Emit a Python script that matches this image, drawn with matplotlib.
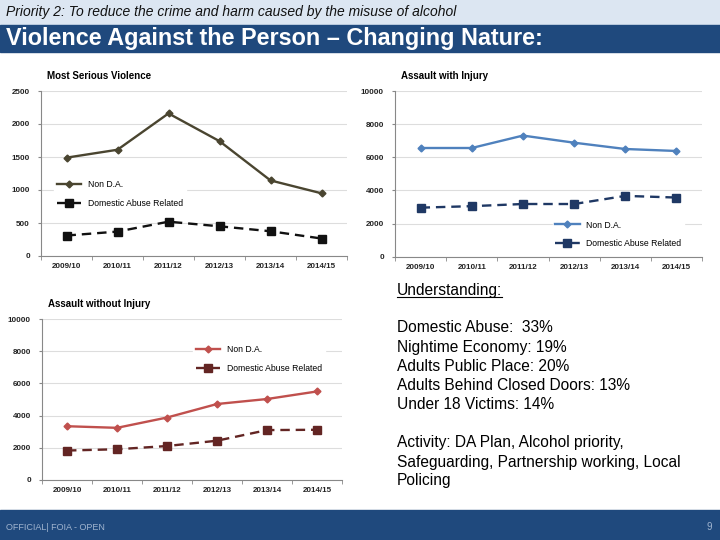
import matplotlib.pyplot as plt
import matplotlib.patches as patches

plt.rcParams['font.family'] = ['Liberation Sans', 'DejaVu Sans']

years = ['2009/10', '2010/11', '2011/12', '2012/13', '2013/14', '2014/15']

# Most Serious Violence
msv_non_da = [1490, 1610, 2160, 1740, 1145, 950]
msv_da = [310, 370, 520, 450, 375, 265]

# Assault with Injury
awi_non_da = [6560, 6560, 7310, 6880, 6500, 6380]
awi_da = [2960, 3050, 3180, 3180, 3670, 3570]

# Assault without Injury
awoi_non_da = [3340, 3240, 3880, 4720, 5030, 5500]
awoi_da = [1830, 1910, 2110, 2440, 3100, 3120]

understanding = ["Domestic Abuse:  33%", "Nightime Economy: 19%", "Adults Public Place: 20%",
                 "Adults Behind Closed Doors: 13%", "Under 18 Victims: 14%"]
activity = ["Activity: DA Plan, Alcohol priority,", "Safeguarding, Partnership working, Local", "Policing"]

dark_blue = '#1f497d'
light_band = '#dce6f2'

fig = plt.figure(figsize=(7.2, 5.4), dpi=100)

# header / footer bands
fig.patches.append(patches.Rectangle((0, 1 - 25/540), 1, 25/540, transform=fig.transFigure, color=light_band, zorder=0))
fig.patches.append(patches.Rectangle((0, 1 - 52/540), 1, 27/540, transform=fig.transFigure, color=dark_blue, zorder=0))
fig.patches.append(patches.Rectangle((0, 0), 1, 30/540, transform=fig.transFigure, color=dark_blue, zorder=0))

fig.text(6/720, 1 - 12/540, "Priority 2: To reduce the crime and harm caused by the misuse of alcohol",
         fontsize=10, style='italic', va='center', ha='left', color='#111111')
fig.text(6/720, 1 - 38/540, "Violence Against the Person \u2013 Changing Nature:",
         fontsize=16.8, fontweight='bold', va='center', ha='left', color='white')
fig.text(6/720, 13/540, "OFFICIAL| FOIA - OPEN", fontsize=6.5, va='center', ha='left', color='#9fb4cf')
fig.text(712/720, 13/540, "9", fontsize=7, va='center', ha='right', color='#9fb4cf')


def chart(rect, title, non_da, da, ymax, c1, c2, legend_loc):
    ax = fig.add_axes(rect)
    x = range(len(years))
    ax.plot(x, non_da, color=c1, lw=1.7, marker='D', ms=3.5, label='Non D.A.')
    ax.plot(x, da, color=c2, lw=1.7, ls=(0, (4, 2.5)), marker='s', ms=6, label='Domestic Abuse Related')
    ax.set_xlim(-0.5, len(years) - 0.5)
    ax.set_ylim(0, ymax)
    ax.set_yticks([ymax * i / 5 for i in range(6)])
    ax.set_yticklabels([str(int(ymax * i / 5)) for i in range(6)])
    ax.set_xticks(list(x))
    ax.set_xticklabels(years)
    ax.set_xticks([i - 0.5 for i in range(len(years) + 1)], minor=True)
    ax.tick_params(axis='x', which='major', length=0, pad=5)
    ax.tick_params(axis='x', which='minor', length=3, color='#888888')
    ax.tick_params(axis='y', length=2, color='#888888', pad=6)
    for lab in ax.get_xticklabels() + ax.get_yticklabels():
        lab.set_fontsize(5.8)
        lab.set_fontweight('bold')
        lab.set_color('#222222')
    ax.grid(axis='y', color='#dddddd', lw=0.8)
    ax.set_axisbelow(True)
    for s in ['top', 'right']:
        ax.spines[s].set_visible(False)
    for s in ['left', 'bottom']:
        ax.spines[s].set_color('#888888')
        ax.spines[s].set_linewidth(0.8)
    ax.text(0.02, 1.06, title, transform=ax.transAxes, fontsize=7, fontweight='bold', ha='left', va='bottom')
    leg = ax.legend(loc='upper left', bbox_to_anchor=legend_loc, frameon=True, fontsize=6.2,
                    handlelength=2.8, labelspacing=1.1, borderpad=0.3)
    leg.get_frame().set_edgecolor('white')
    leg.get_frame().set_facecolor('white')
    leg.get_frame().set_alpha(1)
    return ax


chart([41/720, 1 - 256/540, 306/720, 165/540], "Most Serious Violence", msv_non_da, msv_da, 2500,
      '#4a4530', '#111111', (0.03, 0.5))
chart([395/720, 1 - 256.7/540, 307/720, 165.7/540], "Assault with Injury", awi_non_da, awi_da, 10000,
      '#4f81bd', '#1f3864', (0.5, 0.26))
chart([42/720, 1 - 480/540, 300/720, 161/540], "Assault without Injury", awoi_non_da, awoi_da, 10000,
      '#c0504d', '#632523', (0.49, 0.88))

# Understanding text block
fs = 11.2
t = fig.text(397/720, 1 - 290/540, "Understanding:", fontsize=fs, va='center', ha='left')
fig.canvas.draw()
bb = t.get_window_extent()
fig.add_artist(plt.Line2D([bb.x0 / 720, bb.x1 / 720], [(bb.y0 + 1) / 540, (bb.y0 + 1) / 540],
                          transform=fig.transFigure, color='black', lw=0.8))
for i, line in enumerate(understanding):
    fig.text(397/720, 1 - (328 + 19.2 * i)/540, line, fontsize=fs, va='center', ha='left')
for i, line in enumerate(activity):
    fig.text(397/720, 1 - (443 + 19 * i)/540, line, fontsize=fs, va='center', ha='left')

fig.savefig('out.png', dpi=100)
